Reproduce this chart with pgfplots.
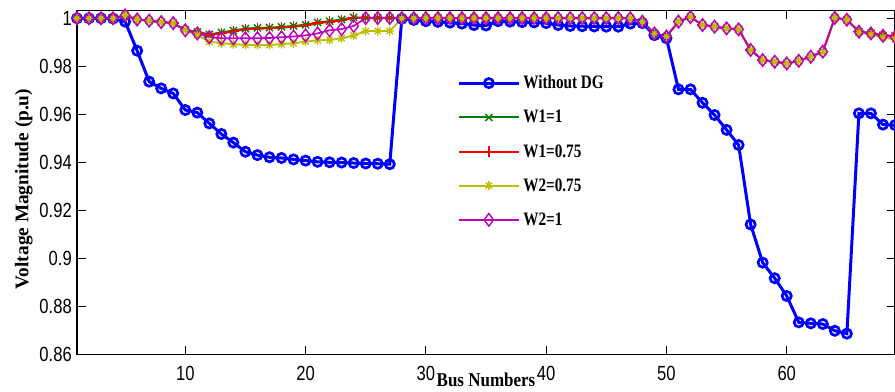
\documentclass[border=0pt]{standalone}
\usepackage{fontspec}
\setmainfont{Liberation Serif}
\newfontfamily\tickfont{Liberation Sans}[FakeStretch=0.81]
\newfontfamily\labfont{Liberation Serif}[FakeStretch=0.87]
\newfontfamily\legfont{Liberation Serif}[FakeStretch=0.8]
\usepackage{pgfplots}
\usepackage{pgfplotstable}
\pgfplotsset{compat=1.18}
\definecolor{mblue}{rgb}{0,0,1}
\definecolor{mgreen}{rgb}{0,0.5,0}
\definecolor{mred}{rgb}{1,0,0}
\definecolor{myellow}{rgb}{0.75,0.75,0}
\definecolor{mmag}{rgb}{0.75,0,0.75}
\pgfdeclareplotmark{mstar}{%
 \pgfpathmoveto{\pgfqpoint{0pt}{\pgfplotmarksize}}\pgfpathlineto{\pgfqpoint{0pt}{-\pgfplotmarksize}}%
 \pgfpathmoveto{\pgfqpoint{\pgfplotmarksize}{0pt}}\pgfpathlineto{\pgfqpoint{-\pgfplotmarksize}{0pt}}%
 \pgfpathmoveto{\pgfqpoint{.7071\pgfplotmarksize}{.7071\pgfplotmarksize}}\pgfpathlineto{\pgfqpoint{-.7071\pgfplotmarksize}{-.7071\pgfplotmarksize}}%
 \pgfpathmoveto{\pgfqpoint{-.7071\pgfplotmarksize}{.7071\pgfplotmarksize}}\pgfpathlineto{\pgfqpoint{.7071\pgfplotmarksize}{-.7071\pgfplotmarksize}}%
 \pgfusepathqstroke}
\pgfplotstableread{
bus nodg w1a w1b w2a w2b
1 1.0000 1.0000 1.0000 1.0000 1.0000
2 1.0000 1.0000 1.0000 1.0000 1.0000
3 1.0000 1.0000 1.0000 1.0000 1.0000
4 0.9999 1.0000 1.0000 1.0000 1.0000
5 0.9986 1.0012 1.0012 1.0012 1.0012
6 0.9865 0.9995 0.9995 0.9995 0.9995
7 0.9736 0.9990 0.9990 0.9990 0.9990
8 0.9708 0.9984 0.9984 0.9984 0.9984
9 0.9687 0.9980 0.9980 0.9980 0.9980
10 0.9618 0.9952 0.9950 0.9950 0.9950
11 0.9607 0.9943 0.9940 0.9930 0.9937
12 0.9562 0.9933 0.9930 0.9903 0.9921
13 0.9518 0.9941 0.9938 0.9896 0.9917
14 0.9482 0.9949 0.9946 0.9892 0.9917
15 0.9444 0.9957 0.9954 0.9889 0.9917
16 0.9430 0.9960 0.9957 0.9889 0.9917
17 0.9421 0.9961 0.9958 0.9889 0.9918
18 0.9418 0.9964 0.9961 0.9892 0.9921
19 0.9412 0.9968 0.9965 0.9896 0.9924
20 0.9407 0.9973 0.9970 0.9903 0.9929
21 0.9402 0.9983 0.9980 0.9908 0.9937
22 0.9400 0.9988 0.9985 0.9910 0.9950
23 0.9399 0.9995 0.9992 0.9917 0.9955
24 0.9397 1.0004 1.0002 0.9928 0.9968
25 0.9395 1.0002 1.0001 0.9947 1.0001
26 0.9394 1.0002 1.0001 0.9947 1.0001
27 0.9392 1.0002 1.0001 0.9947 1.0001
28 0.9998 1.0001 1.0001 1.0000 1.0001
29 0.9993 1.0001 1.0001 1.0000 1.0001
30 0.9988 1.0001 1.0001 1.0000 1.0001
31 0.9985 1.0001 1.0001 1.0000 1.0001
32 0.9982 1.0001 1.0001 1.0000 1.0001
33 0.9978 1.0001 1.0001 1.0000 1.0001
34 0.9972 1.0001 1.0001 1.0000 1.0001
35 0.9970 1.0001 1.0001 1.0000 1.0001
36 0.9988 1.0001 1.0001 1.0000 1.0001
37 0.9986 1.0001 1.0001 1.0000 1.0001
38 0.9984 1.0001 1.0001 1.0000 1.0001
39 0.9983 1.0001 1.0001 1.0000 1.0001
40 0.9980 1.0001 1.0001 1.0000 1.0001
41 0.9972 1.0001 1.0001 1.0000 1.0001
42 0.9968 1.0001 1.0001 1.0000 1.0001
43 0.9967 1.0001 1.0001 1.0000 1.0001
44 0.9966 1.0001 1.0001 1.0000 1.0001
45 0.9965 1.0001 1.0001 1.0000 1.0001
46 0.9965 1.0001 1.0001 1.0000 1.0001
47 0.9978 1.0000 1.0000 1.0000 1.0000
48 0.9980 0.9986 0.9986 0.9986 0.9986
49 0.9930 0.9937 0.9937 0.9937 0.9937
50 0.9917 0.9924 0.9924 0.9924 0.9924
51 0.9704 0.9986 0.9986 0.9986 0.9986
52 0.9704 1.0005 1.0005 1.0005 1.0005
53 0.9648 0.9972 0.9972 0.9972 0.9972
54 0.9597 0.9965 0.9965 0.9965 0.9965
55 0.9535 0.9958 0.9958 0.9958 0.9958
56 0.9472 0.9954 0.9954 0.9954 0.9954
57 0.9141 0.9868 0.9868 0.9868 0.9868
58 0.8982 0.9826 0.9826 0.9826 0.9826
59 0.8917 0.9819 0.9819 0.9819 0.9819
60 0.8843 0.9812 0.9812 0.9812 0.9812
61 0.8733 0.9823 0.9823 0.9823 0.9823
62 0.8729 0.9840 0.9840 0.9840 0.9840
63 0.8726 0.9861 0.9861 0.9861 0.9861
64 0.8698 1.0002 1.0002 1.0002 1.0002
65 0.8686 0.9994 0.9994 0.9994 0.9994
66 0.9604 0.9944 0.9944 0.9940 0.9944
67 0.9604 0.9938 0.9938 0.9932 0.9937
68 0.9557 0.9929 0.9929 0.9920 0.9927
69 0.9555 0.9926 0.9926 0.9912 0.9922
}\vdata
\pgfplotsset{legend image code/.code={%
  \draw[mark repeat=2,mark phase=2,#1] plot coordinates {(0pt,0pt) (30pt,0pt) (60pt,0pt)};}}
\begin{document}
\begin{tikzpicture}
\begin{axis}[name=ax,
  scale only axis, width=818pt, height=343.6pt,
  xmin=1, xmax=69, ymin=0.86, ymax=1.00317,
  enlargelimits=false, clip=false,
  xtick={10,20,30,40,50,60},
  ytick={0.86,0.88,0.9,0.92,0.94,0.96,0.98,1},
  tick align=inside, major tick length=8.5pt,
  tick style={black, line width=0.9pt},
  axis line style={black, line width=1.3pt},
  /pgf/number format/assume math mode=true,
  ticklabel style={font=\tickfont\fontsize{20.5}{24}\selectfont},
  yticklabel style={inner sep=0pt, xshift=-5pt},
  xticklabel style={inner sep=0pt, yshift=-11.4pt},
  xlabel={Bus Numbers},
  ylabel={Voltage Magnitude (p.u)},
  xlabel style={at={(axis description cs:0.5,-0.0943)}, anchor=base, font=\labfont\bfseries\fontsize{19.5}{22}\selectfont},
  ylabel style={at={(axis description cs:-0.0593,0.481)}, anchor=base, font=\bfseries\fontsize{19.3}{22}\selectfont},
  legend cell align=left,
  legend style={at={(axis description cs:0.465,0.5908)}, anchor=west, draw=none, fill=none,
     inner sep=0pt, outer sep=0pt, row sep=14pt,
     font=\legfont\bfseries\fontsize{19}{22}\selectfont,
     nodes={inner sep=3pt}},
]
\addplot[color=mblue, line width=3pt, mark=o, mark size=4.6pt, mark options={solid, line width=2.7pt}] table[x=bus, y=nodg] {\vdata};
\addlegendentry{Without DG}
\addplot[color=mgreen, line width=2pt, mark=x, mark size=5pt, mark options={solid, line width=1.4pt}] table[x=bus, y=w1a] {\vdata};
\addlegendentry{W1=1}
\addplot[color=mred, line width=2pt, mark=+, mark size=5.5pt, mark options={solid, line width=1.3pt}] table[x=bus, y=w1b] {\vdata};
\addlegendentry{W1=0.75}
\addplot[color=myellow, line width=1.8pt, mark=mstar, mark size=4.5pt, mark options={solid, line width=1.3pt}] table[x=bus, y=w2a] {\vdata};
\addlegendentry{W2=0.75}
\addplot[color=mmag, line width=1.7pt, mark=diamond, mark size=6.3pt, mark options={solid, line width=1.4pt}] table[x=bus, y=w2b] {\vdata};
\addlegendentry{W2=1}
\end{axis}
\pgfresetboundingbox
\path[use as bounding box] ([xshift=-77pt,yshift=-37.7pt]ax.south west) rectangle ([yshift=10.7pt]ax.north east);
\end{tikzpicture}
\end{document}
